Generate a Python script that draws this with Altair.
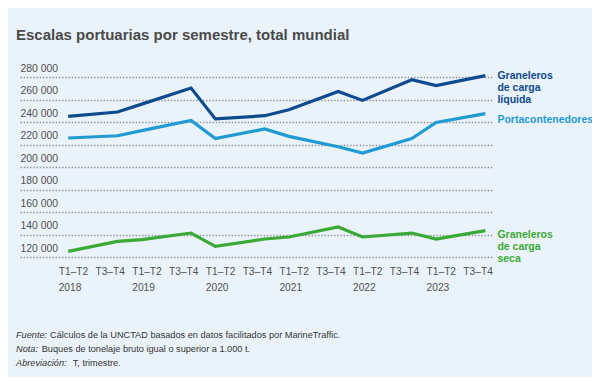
import altair as alt
import pandas as pd

# ---- data ----
periodos = ["T1–T2 2018", "T3–T4 2018", "T1–T2 2019", "T3–T4 2019", "T1–T2 2020", "T3–T4 2020",
            "T1–T2 2021", "T3–T4 2021", "T1–T2 2022", "T3–T4 2022", "T1–T2 2023", "T3–T4 2023"]
# position on the time axis (in years) at which each semester point is drawn
posicion = [2018.0, 2018.67, 2019.0, 2019.67, 2020.0, 2020.67,
            2021.0, 2021.67, 2022.0, 2022.67, 2023.0, 2023.67]
liquida = [245000, 248900, 255900, 270200, 242700, 245600, 250900, 267200, 259200, 277600, 272300, 281200]
contenedores = [225800, 227800, 232300, 241400, 225200, 233800, 227200, 218000, 212400, 225200, 239600, 247400]
seca = [125000, 133900, 135400, 141300, 129400, 136000, 137800, 146700, 137800, 141300, 136000, 143400]

series = ["Graneleros de carga líquida", "Portacontenedores", "Graneleros de carga seca"]
etiquetas = ["Graneleros\nde carga\nlíquida", "Portacontenedores", "Graneleros\nde carga\nseca"]
colores = ["#0d4a8e", "#1f9ad2", "#3aa935"]

ticks_x = [2018.0, 2018.5, 2019.0, 2019.5, 2020.0, 2020.5, 2021.0, 2021.5, 2022.0, 2022.5, 2023.0, 2023.5]
ticks_y = [120000, 140000, 160000, 180000, 200000, 220000, 240000, 260000, 280000]

titulo = "Escalas portuarias por semestre, total mundial"
notas_prefijo = ["Fuente:", "Nota:", "Abreviación:"]
notas_texto = ["Cálculos de la UNCTAD basados en datos facilitados por MarineTraffic.",
               "Buques de tonelaje bruto igual o superior a 1.000 t.",
               "T, trimestre."]

FONT = "Liberation Sans"

rows = []
for name, vals in zip(series, [liquida, contenedores, seca]):
    for p, x, v in zip(periodos, posicion, vals):
        rows.append({"serie": name, "periodo": p, "posicion": x, "valor": v})
df = pd.DataFrame(rows)

xscale = alt.Scale(domain=[2017.345, 2023.76], nice=False, zero=False)
yscale = alt.Scale(domain=[120000, 280000], nice=False, zero=False)
cscale = alt.Scale(domain=series, range=colores)

xaxis = alt.Axis(
    values=ticks_x, title=None, domain=False, ticks=False, grid=False,
    labelExpr="datum.value % 1 == 0 ? ['T1–T2', toString(datum.value)] : 'T3–T4'",
    labelAlign="left", labelOffset=-10, labelPadding=9, labelFlush=False, labelOverlap=False,
    labelFont=FONT, labelFontSize=10.2, labelColor="#505050", labelLineHeight=16,
    labelBaseline="top")
yaxis = alt.Axis(
    values=ticks_y, title=None, domain=False, ticks=False, grid=True,
    gridDash=[1.4, 1.8], gridColor="#8a9096", gridWidth=1.3,
    labelExpr="replace(format(datum.value, ','), ',', ' ')",
    labelAlign="left", labelBaseline="bottom", labelPadding=0, labelOffset=-4,
    labelOverlap=False, labelFlush=False, labelBound=False,
    labelFont=FONT, labelFontSize=10.4, labelColor="#505050")

lines = alt.Chart(df).mark_line(strokeWidth=3.2, strokeJoin="miter").encode(
    x=alt.X("posicion:Q", scale=xscale, axis=xaxis),
    y=alt.Y("valor:Q", scale=yscale, axis=yaxis),
    color=alt.Color("serie:N", scale=cscale, legend=None),
    order="posicion:Q",
)

layers = [lines]
dys = [-5, 1.5, -1]
for name, lab, col, dy, vals in zip(series, etiquetas, colores, dys, [liquida, contenedores, seca]):
    d = pd.DataFrame({"serie": [name], "posicion": [posicion[-1]], "valor": [vals[-1]], "etiqueta": [lab]})
    layers.append(alt.Chart(d).mark_text(
        align="left", baseline="top", dx=12, dy=dy, lineBreak="\n", lineHeight=12,
        font=FONT, fontSize=10.5, fontWeight="bold", color=col).encode(
        x=alt.X("posicion:Q", scale=xscale, axis=xaxis),
        y=alt.Y("valor:Q", scale=yscale, axis=yaxis),
        text="etiqueta:N"))

rest_x = [30, 21.7, 52.7]
for i in range(3):
    layers.append(alt.Chart(pd.DataFrame({"t": [notas_prefijo[i]]})).mark_text(
        align="left", baseline="middle", font=FONT, fontSize=9.2, fontStyle="italic", color="#333333").encode(
        x=alt.value(-4), y=alt.value(257.7 + 14 * i), text="t:N"))
    layers.append(alt.Chart(pd.DataFrame({"t": [notas_texto[i]]})).mark_text(
        align="left", baseline="middle", font=FONT, fontSize=9.2, color="#333333").encode(
        x=alt.value(rest_x[i]), y=alt.value(257.7 + 14 * i), text="t:N"))

chart = alt.layer(*layers).properties(
    width=472, height=180,
    title=alt.TitleParams(titulo, anchor="start", font=FONT, fontSize=15, fontWeight="bold",
                          color="#4a4a4a", offset=20),
    autosize=alt.AutoSizeParams(type="none"),
    padding={"left": 12, "top": 69, "right": 100, "bottom": 120},
    background="#ebf3fa",
).configure_view(stroke=None)

chart.save("out.html", embed_options={"renderer": "svg", "actions": False})
